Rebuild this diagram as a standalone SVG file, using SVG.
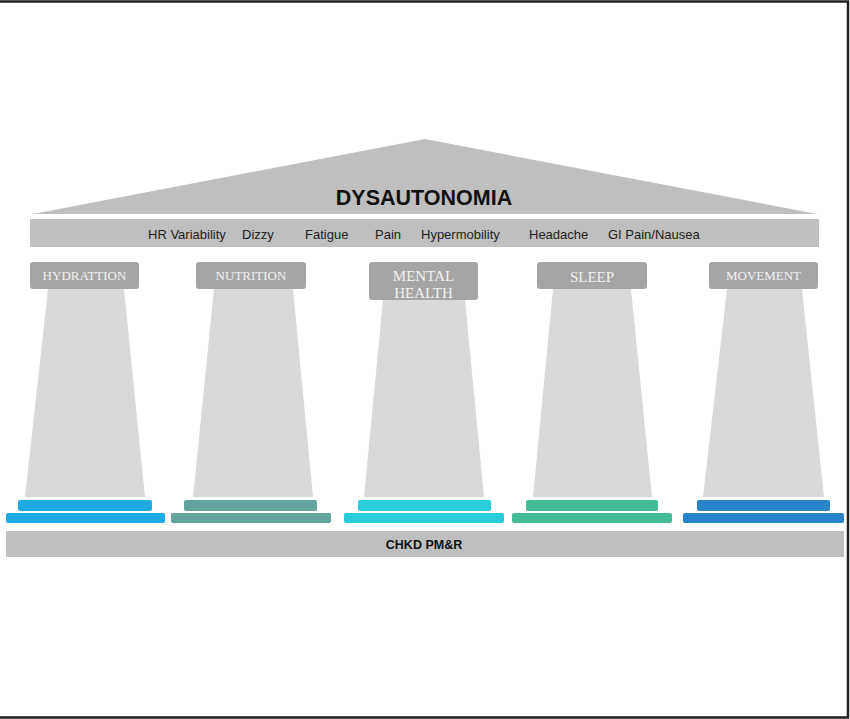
<svg xmlns="http://www.w3.org/2000/svg" width="850" height="719" viewBox="0 0 850 719">
<style>
.gray{fill:#bfbfbf}
.shaft{fill:#d9d9d9}
.cap{fill:#a5a5a5}
.lbl{font-family:"Liberation Serif",serif;fill:#f2f2f2;text-anchor:middle}
.sym{font-family:"Liberation Sans",Arial,sans-serif;font-size:13px;fill:#222}
.bold{font-family:"Liberation Sans",Arial,sans-serif;font-weight:bold;fill:#111;text-anchor:middle}
</style>
<rect x="0" y="0" width="850" height="719" fill="#ffffff"/>
<rect x="-5" y="1.5" width="853" height="716" fill="none" stroke="#222" stroke-width="2.5"/>

<g id="roof">
<polygon class="gray" points="33,214 425,139 817,214"/>
<text class="bold" x="424" y="205" font-size="21.5">DYSAUTONOMIA</text>
</g>

<g id="symptoms">
<rect class="gray" x="30" y="219" width="789" height="28"/>
<text class="sym" x="148" y="239">HR Variability</text>
<text class="sym" x="242" y="239">Dizzy</text>
<text class="sym" x="305" y="239">Fatigue</text>
<text class="sym" x="375" y="239">Pain</text>
<text class="sym" x="421" y="239">Hypermobility</text>
<text class="sym" x="529" y="239">Headache</text>
<text class="sym" x="608" y="239">GI Pain/Nausea</text>
</g>

<g id="hydration">
<polygon class="shaft" points="48,289 124,289 145,497 25,497"/>
<rect class="cap" x="30" y="262" width="109" height="27" rx="3"/>
<text class="lbl" x="84.5" y="280" font-size="13">HYDRATTION</text>
<rect x="18" y="500" width="134" height="11" rx="2" fill="#1eaae2"/>
<rect x="6" y="513" width="159" height="10" rx="2" fill="#1eaae2"/>
</g>

<g id="nutrition">
<polygon class="shaft" points="214,289 293,289 313,497 193,497"/>
<rect class="cap" x="196" y="262" width="110" height="27" rx="3"/>
<text class="lbl" x="251" y="280" font-size="13">NUTRITION</text>
<rect x="184" y="500" width="133" height="11" rx="2" fill="#63a39d"/>
<rect x="171" y="513" width="160" height="10" rx="2" fill="#63a39d"/>
</g>

<g id="mental-health">
<polygon class="shaft" points="383,300 465,300 484,497 364,497"/>
<rect class="cap" x="369" y="262" width="109" height="38" rx="3"/>
<text class="lbl" x="423.5" y="281" font-size="15">MENTAL</text>
<text class="lbl" x="423.5" y="298" font-size="15">HEALTH</text>
<rect x="358" y="500" width="133" height="11" rx="2" fill="#28cdd9"/>
<rect x="344" y="513" width="160" height="10" rx="2" fill="#28cdd9"/>
</g>

<g id="sleep">
<polygon class="shaft" points="553,289 631,289 652,497 533,497"/>
<rect class="cap" x="537" y="262" width="110" height="27" rx="3"/>
<text class="lbl" x="592" y="282" font-size="15">SLEEP</text>
<rect x="526" y="500" width="132" height="11" rx="2" fill="#44bb97"/>
<rect x="512" y="513" width="160" height="10" rx="2" fill="#44bb97"/>
</g>

<g id="movement">
<polygon class="shaft" points="727,289 802,289 824,497 703,497"/>
<rect class="cap" x="709" y="262" width="109" height="27" rx="3"/>
<text class="lbl" x="763.5" y="280" font-size="13">MOVEMENT</text>
<rect x="697" y="500" width="133" height="11" rx="2" fill="#2883c8"/>
<rect x="683" y="513" width="161" height="10" rx="2" fill="#2883c8"/>
</g>

<g id="base">
<rect class="gray" x="6" y="531" width="838" height="26"/>
<text class="bold" x="424" y="549" font-size="12.5">CHKD PM&amp;R</text>
</g>

<g id="connectors"></g>
</svg>
